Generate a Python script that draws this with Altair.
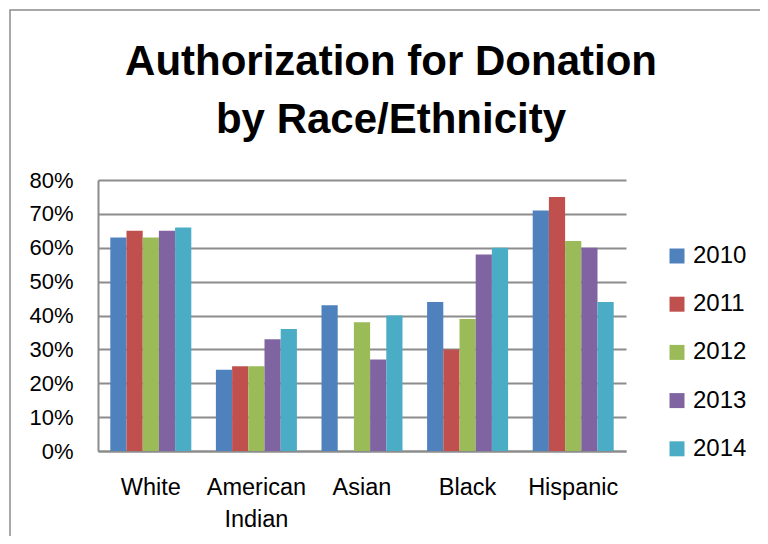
import altair as alt
import pandas as pd

categories = ["White", "American Indian", "Asian", "Black", "Hispanic"]
years = ["2010", "2011", "2012", "2013", "2014"]
v2010 = [0.63, 0.24, 0.43, 0.44, 0.71]
v2011 = [0.65, 0.25, None, 0.30, 0.75]
v2012 = [0.63, 0.25, 0.38, 0.39, 0.62]
v2013 = [0.65, 0.33, 0.27, 0.58, 0.60]
v2014 = [0.66, 0.36, 0.40, 0.60, 0.44]
colors = ["#4F81BD", "#C0504D", "#9BBB59", "#8064A2", "#4BACC6"]
title_lines = ["Authorization for Donation", "by Race/Ethnicity"]

series = [v2010, v2011, v2012, v2013, v2014]
rows = []
for y, vals in zip(years, series):
    for c, v in zip(categories, vals):
        if v is not None:
            rows.append({"category": c, "year": y, "value": v})
df = pd.DataFrame(rows)

FONT = "Liberation Sans"

border = alt.Chart(pd.DataFrame({"k": [0]})).mark_rect(
    fill=None, stroke="#8c8c8c", strokeWidth=1.5
).encode(
    x=alt.value(-88), x2=alt.value(800), y=alt.value(-170), y2=alt.value(600)
)

title1 = alt.Chart(pd.DataFrame({"t": [title_lines[0]]})).mark_text(
    fontSize=42, font=FONT, fontWeight="bold", color="black", align="center", baseline="middle"
).encode(text="t:N", x=alt.value(293), y=alt.value(-118))

title2 = alt.Chart(pd.DataFrame({"t": [title_lines[1]]})).mark_text(
    fontSize=42, font=FONT, fontWeight="bold", color="black", align="center", baseline="middle"
).encode(text="t:N", x=alt.value(293), y=alt.value(-60))

bars = alt.Chart(df).mark_bar(size=16.2).encode(
    x=alt.X("category:N", sort=categories, title=None,
            scale=alt.Scale(paddingInner=0.233, paddingOuter=0.1165),
            axis=alt.Axis(labelAngle=0, ticks=False, labelPadding=24,
                          labelFontSize=23.5, labelFont=FONT, labelColor="black",
                          domainColor="#8c8c8c", domainWidth=2, labelLineHeight=32,
                          labelExpr="datum.label == 'American Indian' ? ['American', 'Indian'] : datum.label")),
    xOffset=alt.XOffset("year:N", sort=years),
    y=alt.Y("value:Q", title=None,
            scale=alt.Scale(domain=[0, 0.8], nice=False),
            axis=alt.Axis(values=[0, 0.1, 0.2, 0.3, 0.4, 0.5, 0.6, 0.7, 0.8], format=".0%",
                          ticks=False, labelPadding=25, labelFontSize=22, labelFont=FONT,
                          labelColor="black", grid=True, gridColor="#8c8c8c", gridWidth=2,
                          domainColor="#8c8c8c", domainWidth=2)),
    color=alt.Color("year:N", sort=years, title=None,
                    scale=alt.Scale(domain=years, range=colors),
                    legend=alt.Legend(orient="none", legendX=567, legendY=64,
                                      symbolType="square", symbolSize=225, symbolStrokeWidth=0,
                                      labelFontSize=24, labelFont=FONT, labelColor="black",
                                      labelOffset=4, rowPadding=24.2, padding=0)),
)

chart = alt.layer(border, title1, title2, bars).properties(
    width=528, height=271,
    autosize=alt.AutoSizeParams(type="none"),
    padding={"left": 90, "top": 172, "right": 134, "bottom": 85},
).configure_view(stroke=None)

chart.save("out.html", embed_options={"renderer": "svg", "actions": False})
